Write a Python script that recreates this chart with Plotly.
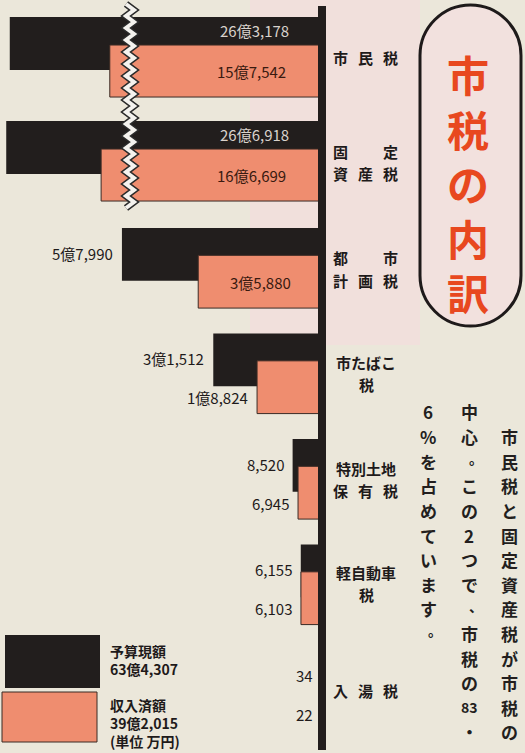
import plotly.graph_objects as go

# ---------------- data (単位 万円) ----------------
categories = ["市民税", "固定資産税", "都市計画税", "市たばこ税", "特別土地保有税", "軽自動車税", "入湯税"]
budget = [263178, 266918, 57990, 31512, 8520, 6155, 34]          # 予算現額
received = [157542, 166699, 35880, 18824, 6945, 6103, 22]         # 収入済額
budget_labels = ["26億3,178", "26億6,918", "5億7,990", "3億1,512", "8,520", "6,155", "34"]
received_labels = ["15億7,542", "16億6,699", "3億5,880", "1億8,824", "6,945", "6,103", "22"]
category_lines = [["市民税"], ["固　定", "資産税"], ["都　市", "計画税"], ["市たばこ", "税"],
                  ["特別土地", "保有税"], ["軽自動車", "税"], ["入湯税"]]
series_names = ["予算現額", "収入済額"]
total_labels = ["63億4,307", "39億2,015"]
unit_label = "(単位 万円)"
title_text = "市税の内訳"
body_columns = [
    ["", "市", "民", "税", "と", "固", "定", "資", "産", "税", "が", "市", "税", "の"],
    ["中", "心", "。", "こ", "の", "2", "つ", "で", "、", "市", "税", "の", "83", "・"],
    ["6", "%", "を", "占", "め", "て", "い", "ま", "す", "。"],
]

# ---------------- styling ----------------
W, H = 525, 753
BLACK = "#221e1d"
SALMON = "#ef8d6f"
BG = "#ebe7da"
PINK = "#f1e0dc"
RED = "#e8481f"
CJK = "Noto Sans CJK JP"
NUM = "Liberation Sans Narrow, Noto Sans CJK JP"


def fx(px):
    return px / W


def fy(py):
    return 1 - py / H


AXIS_PX = 322
BREAK_PX = 130
K = 3.45 / 1000.0          # px per 万円 on the linear (right) part
TOP_SPLIT = 215

top_cats = categories[:2]
bot_cats = categories[2:]

fig = go.Figure()

# top group, drawn on both segments of the broken axis
for xa in ["x", "x2"]:
    fig.add_trace(go.Bar(y=top_cats, x=budget[:2], orientation="h", xaxis=xa, yaxis="y",
                         marker=dict(color=BLACK, line=dict(width=0)),
                         width=0.51, offset=-0.385, name=series_names[0], showlegend=False))
    fig.add_trace(go.Bar(y=top_cats, x=received[:2], orientation="h", xaxis=xa, yaxis="y",
                         marker=dict(color=SALMON, line=dict(color="#3a2a24", width=1)),
                         width=0.5, offset=-0.115, name=series_names[1], showlegend=False))
# bottom group
fig.add_trace(go.Bar(y=bot_cats, x=budget[2:], orientation="h", xaxis="x3", yaxis="y2",
                     marker=dict(color=BLACK, line=dict(width=0)),
                     width=0.5, offset=-0.38, name=series_names[0], showlegend=False))
fig.add_trace(go.Bar(y=bot_cats, x=received[2:], orientation="h", xaxis="x3", yaxis="y2",
                     marker=dict(color=SALMON, line=dict(color="#3a2a24", width=1)),
                     width=0.5, offset=-0.12, name=series_names[1], showlegend=False))

right_span = (AXIS_PX - BREAK_PX) / K
bottom_span = AXIS_PX / K
hidden = dict(visible=False, showgrid=False, zeroline=False, fixedrange=True)

fig.update_layout(
    width=W, height=H,
    margin=dict(l=0, r=0, t=0, b=0),
    paper_bgcolor=BG, plot_bgcolor="rgba(0,0,0,0)",
    barmode="overlay", showlegend=False,
    xaxis=dict(domain=[0, fx(BREAK_PX)], range=[273500, 136200], anchor="y", **hidden),
    xaxis2=dict(domain=[fx(BREAK_PX), fx(AXIS_PX)], range=[right_span, 0], anchor="y", **hidden),
    xaxis3=dict(domain=[0, fx(AXIS_PX)], range=[bottom_span, 0], anchor="y2", **hidden),
    yaxis=dict(domain=[fy(TOP_SPLIT), 1], range=[1 + 54 / 104, -57 / 104], type="category", **hidden),
    yaxis2=dict(domain=[0, fy(TOP_SPLIT)], range=[4 + 63 / 105.5, -53 / 105.5], type="category", **hidden),
)

shapes = []
# pink backdrop
shapes.append(dict(type="rect", xref="paper", yref="paper", x0=fx(250), x1=fx(420), y0=fy(345), y1=fy(0),
                   fillcolor=PINK, line=dict(width=0), layer="below"))
# thick value axis
shapes.append(dict(type="rect", xref="paper", yref="paper", x0=fx(318), x1=fx(326), y0=fy(750), y1=fy(6),
                   fillcolor=BLACK, line=dict(width=0)))
# zigzag axis-break marks
pts = []
yy = 4
i = 0
while yy <= 212:
    pts.append((BREAK_PX - 4 + (8 if i % 2 else 0), yy))
    yy += 6
    i += 1
zpath = "M " + " L ".join(f"{fx(px):.5f},{fy(py):.5f}" for px, py in pts)
shapes.append(dict(type="path", xref="paper", yref="paper", path=zpath, line=dict(color="#2a2a2a", width=7)))
shapes.append(dict(type="path", xref="paper", yref="paper", path=zpath, line=dict(color="#f4f2ee", width=4)))

# title stadium box
x0b, x1b, y0b, y1b = 420, 521, 5, 326
r = (x1b - x0b) / 2
cxm = (x0b + x1b) / 2
kk = 0.5523 * r


def P(px, py):
    return f"{fx(px):.5f},{fy(py):.5f}"


box = (f"M {P(x0b, y0b + r)} C {P(x0b, y0b + r - kk)} {P(cxm - kk, y0b)} {P(cxm, y0b)} "
       f"C {P(cxm + kk, y0b)} {P(x1b, y0b + r - kk)} {P(x1b, y0b + r)} "
       f"L {P(x1b, y1b - r)} C {P(x1b, y1b - r + kk)} {P(cxm + kk, y1b)} {P(cxm, y1b)} "
       f"C {P(cxm - kk, y1b)} {P(x0b, y1b - r + kk)} {P(x0b, y1b - r)} Z")
shapes.append(dict(type="path", xref="paper", yref="paper", path=box,
                   fillcolor="#f2e1de", line=dict(color="#1e1a1a", width=3)))

# legend swatches
shapes.append(dict(type="rect", xref="paper", yref="paper", x0=fx(5), x1=fx(100), y0=fy(688), y1=fy(635),
                   fillcolor=BLACK, line=dict(width=0)))
shapes.append(dict(type="rect", xref="paper", yref="paper", x0=fx(2), x1=fx(97), y0=fy(742), y1=fy(692),
                   fillcolor=SALMON, line=dict(color="#3a2a24", width=1)))
fig.update_layout(shapes=shapes)

ann = []
# value labels, top group (inside bars)
for i in range(2):
    ann.append(dict(x=fx(291), y=top_cats[i], xref="paper", yref="y", yshift=27, text=budget_labels[i],
                    xanchor="right", yanchor="middle", showarrow=False,
                    font=dict(family=NUM, size=15, color="#d9d2cc")))
    ann.append(dict(x=fx(288), y=top_cats[i], xref="paper", yref="y", yshift=-14, text=received_labels[i],
                    xanchor="right", yanchor="middle", showarrow=False,
                    font=dict(family=NUM, size=15, color="#3a1a10")))
# value labels, bottom group
for j, c in enumerate(bot_cats):
    i = j + 2
    ann.append(dict(x=budget[i], y=c, xref="x3", yref="y2", xshift=-7, yshift=15, text=budget_labels[i],
                    xanchor="right", yanchor="middle", showarrow=False,
                    font=dict(family=NUM, size=15, color="#1e1a1a")))
    if j == 0:
        ann.append(dict(x=received[i] / 2, y=c, xref="x3", yref="y2", yshift=-14, text=received_labels[i],
                        xanchor="center", yanchor="middle", showarrow=False,
                        font=dict(family=NUM, size=15, color="#3a1a10")))
    else:
        ann.append(dict(x=received[i], y=c, xref="x3", yref="y2", xshift=-7, yshift=-24, text=received_labels[i],
                        xanchor="right", yanchor="middle", showarrow=False,
                        font=dict(family=NUM, size=15, color="#1e1a1a")))

# category labels right of the axis
centers = [57, 161, 268, 372, 478, 582, 690]
grid_x = [340, 365, 390]
for lines, cy in zip(category_lines, centers):
    ys = [cy] if len(lines) == 1 else [cy - 10, cy + 12]
    for line, ly in zip(lines, ys):
        if len(line) == 3:
            for ch, gx in zip(line, grid_x):
                if ch.strip("　"):
                    ann.append(dict(x=fx(gx), y=fy(ly), xref="paper", yref="paper", text=f"<b>{ch}</b>",
                                    showarrow=False, xanchor="center", yanchor="middle",
                                    font=dict(family=CJK, size=15, color="#1e1a1a")))
        else:
            ann.append(dict(x=fx(366), y=fy(ly), xref="paper", yref="paper", text=f"<b>{line}</b>",
                            showarrow=False, xanchor="center", yanchor="middle",
                            font=dict(family=CJK, size=15, color="#1e1a1a")))

# vertical title (one text, one character per line)
ann.append(dict(x=fx(468), y=fy(182), xref="paper", yref="paper",
                text="<b>" + "<br>".join(title_text) + "</b>", showarrow=False,
                xanchor="center", yanchor="middle", font=dict(family=CJK, size=42, color=RED)))

# vertical body text (right to left columns)
col_x = [509, 469, 428]
for col, cx in zip(body_columns, col_x):
    for k, ch in enumerate(col):
        if not ch:
            continue
        cy = 412 + 24.6 * k
        xs, ys, sz = 0, 0, 17
        if ch in "。、":
            xs, ys, sz = 7, 3, 14
        elif ch == "83":
            sz = 14
        ann.append(dict(x=fx(cx), y=fy(cy), xref="paper", yref="paper", text=f"<b>{ch}</b>",
                        showarrow=False, xanchor="center", yanchor="middle", xshift=xs, yshift=ys,
                        font=dict(family=CJK, size=sz, color="#231f1e")))

# legend texts
leg = [(f"<b>{series_names[0]}<br>{total_labels[0]}</b>", 108, 660),
       (f"<b>{series_names[1]}<br>{total_labels[1]}<br>{unit_label}</b>", 108, 723)]
for t, lx, ly in leg:
    ann.append(dict(x=fx(lx), y=fy(ly), xref="paper", yref="paper", text=t, showarrow=False,
                    xanchor="left", yanchor="middle", align="left",
                    font=dict(family=NUM, size=14, color="#1e1a1a")))

fig.update_layout(annotations=ann)
fig.write_html("out.html", config={"displayModeBar": False},
               post_script="document.body.style.margin='0';document.body.style.background='" + BG + "';")
